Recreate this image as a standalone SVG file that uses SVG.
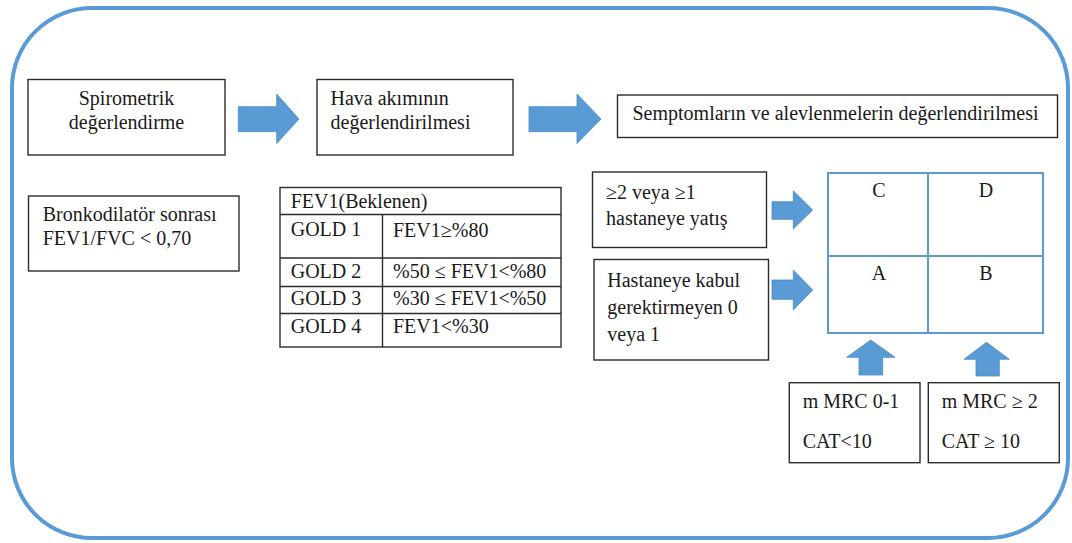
<svg xmlns="http://www.w3.org/2000/svg" width="1072" height="543" viewBox="0 0 1072 543">
<style>
text{font-family:"Liberation Serif","Times New Roman",serif;font-size:20px;fill:#1a1a1a}
.box{fill:#fff;stroke:#2b2b2b;stroke-width:1.4}
.tl{stroke:#2b2b2b;stroke-width:1.4;fill:none}
.arr{fill:#5B9BD5;stroke:#4a8bc8;stroke-width:0.8}
.grid{fill:#fff;stroke:#5B9BD5;stroke-width:2}
.mid{text-anchor:middle}
</style>
<rect x="12" y="8" width="1056" height="530" rx="80" ry="80" fill="#fff" stroke="#5B9BD5" stroke-width="4"/>
<g id="spirometrik">
<rect class="box" x="28" y="79.5" width="197" height="75.5"/>
<text class="mid" x="126.5" y="105">Spirometrik</text>
<text class="mid" x="126.5" y="128.5">değerlendirme</text>
</g>
<g id="hava">
<rect class="box" x="317" y="79.5" width="196" height="75.5"/>
<text x="330.5" y="105">Hava akımının</text>
<text x="330.5" y="128.5">değerlendirilmesi</text>
</g>
<g id="semptom">
<rect class="box" x="617.5" y="95" width="440" height="42.5"/>
<text x="632.5" y="120">Semptomların ve alevlenmelerin değerlendirilmesi</text>
</g>
<g id="bronkodilator">
<rect class="box" x="28.5" y="196" width="210.5" height="75"/>
<text x="42.7" y="221">Bronkodilatör sonrası</text>
<text x="42.7" y="245">FEV1/FVC &lt; 0,70</text>
</g>
<g id="gold-table">
<rect class="box" x="280" y="187.5" width="281" height="159.5"/>
<line class="tl" x1="280" y1="214.5" x2="561" y2="214.5"/>
<line class="tl" x1="280" y1="258" x2="561" y2="258"/>
<line class="tl" x1="280" y1="286.5" x2="561" y2="286.5"/>
<line class="tl" x1="280" y1="313.5" x2="561" y2="313.5"/>
<line class="tl" x1="382.5" y1="214.5" x2="382.5" y2="347"/>
<text x="290.7" y="208">FEV1(Beklenen)</text>
<text x="290.7" y="236">GOLD 1</text>
<text x="393" y="237">FEV1≥%80</text>
<text x="290.7" y="278">GOLD 2</text>
<text x="393" y="278">%50 ≤ FEV1&lt;%80</text>
<text x="290.7" y="305">GOLD 3</text>
<text x="393" y="305">%30 ≤ FEV1&lt;%50</text>
<text x="290.7" y="332.5">GOLD 4</text>
<text x="393" y="332.5">FEV1&lt;%30</text>
</g>
<g id="exac-high">
<rect class="box" x="592.5" y="172" width="174" height="75.5"/>
<text x="606" y="199.3">≥2 veya ≥1</text>
<text x="606" y="225">hastaneye yatış</text>
</g>
<g id="exac-low">
<rect class="box" x="594" y="259.5" width="174.5" height="100.5"/>
<text x="607.3" y="287">Hastaneye kabul</text>
<text x="607.3" y="314">gerektirmeyen 0</text>
<text x="607.3" y="341">veya 1</text>
</g>
<g id="grid-abcd">
<rect class="grid" x="828" y="173" width="215" height="160"/>
<line x1="928" y1="173" x2="928" y2="333" stroke="#5B9BD5" stroke-width="2"/>
<line x1="828" y1="256" x2="1043" y2="256" stroke="#5B9BD5" stroke-width="2"/>
<text class="mid" x="879" y="197">C</text>
<text class="mid" x="986" y="197">D</text>
<text class="mid" x="879" y="280">A</text>
<text class="mid" x="986" y="280">B</text>
</g>
<g id="mmrc-low">
<rect class="box" x="789.3" y="382.7" width="130.7" height="80"/>
<text x="802.7" y="408.3">m MRC 0-1</text>
<text x="802.7" y="448.3">CAT&lt;10</text>
</g>
<g id="mmrc-high">
<rect class="box" x="928.3" y="382.7" width="131" height="80"/>
<text x="941.7" y="408.3">m MRC ≥ 2</text>
<text x="941.7" y="448.3">CAT ≥ 10</text>
</g>
<g id="connectors">
<polygon class="arr" points="238.3,106.7 276.7,106.7 276.7,94 299,119 276.7,143.5 276.7,131.7 238.3,131.7"/>
<polygon class="arr" points="529,106.7 577,106.7 577,94 601,119 577,143.5 577,131.7 529,131.7"/>
<polygon class="arr" points="772,201.7 793.3,201.7 793.3,190.7 812.7,210 793.3,229 793.3,219.3 772,219.3"/>
<polygon class="arr" points="772,280 793.3,280 793.3,270 812.7,290 793.3,310 793.3,299.3 772,299.3"/>
<polygon class="arr" points="859,375 859,357.3 846.7,357.3 870.7,340 895,357.3 882.7,357.3 882.7,375"/>
<polygon class="arr" points="976,376 976,359.3 964,359.3 986.5,342.3 1009.3,359.3 999.3,359.3 999.3,376"/>
</g>
</svg>
